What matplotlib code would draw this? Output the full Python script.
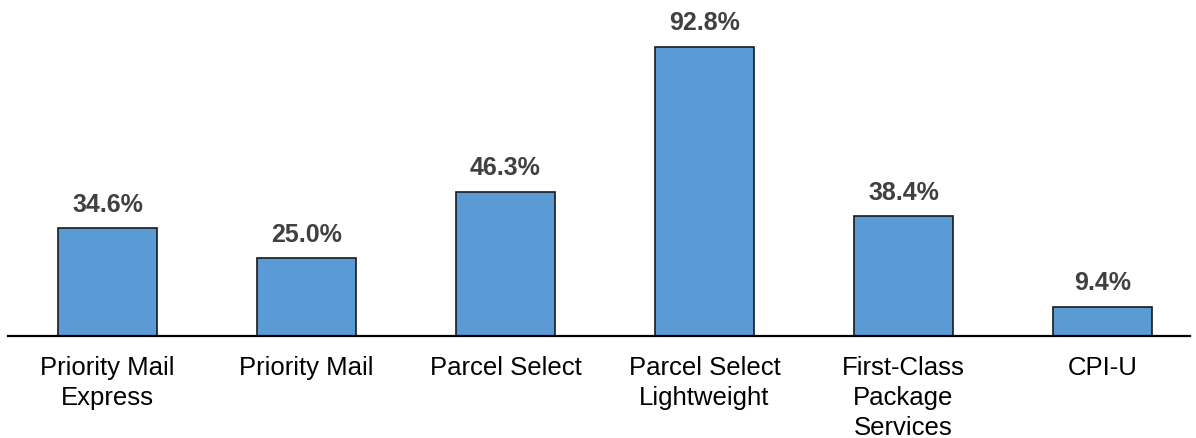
import matplotlib
matplotlib.use("Agg")
import matplotlib.pyplot as plt

# data
categories = ["Priority Mail\nExpress", "Priority Mail", "Parcel Select",
              "Parcel Select\nLightweight", "First-Class\nPackage\nServices", "CPI-U"]
values = [34.6, 25.0, 46.3, 92.8, 38.4, 9.4]

plt.rcParams['font.family'] = ['Liberation Sans', 'DejaVu Sans']

fig = plt.figure(figsize=(11.96, 4.39), dpi=100)
ax = fig.add_axes([8 / 1196, 102 / 439, 1182 / 1196, 337 / 439])

x = range(len(categories))
bars = ax.bar(x, values, width=0.5, color="#5B9BD5", edgecolor="#1a1a1a", linewidth=1.2)

for rect, v in zip(bars, values):
    ax.annotate(f"{v:.1f}%", (rect.get_x() + rect.get_width() / 2, rect.get_height()),
                xytext=(0, 9), textcoords="offset points", ha="center", va="bottom",
                fontsize=18, fontweight="bold", color="#404040")

ax.set_xlim(-0.5, len(categories) - 0.56)
ax.set_ylim(0, 108.2)
ax.set_xticks(list(x))
ax.set_xticklabels(categories, fontsize=18.5, color="black", linespacing=1.3)
ax.tick_params(axis="x", length=0, pad=14)
ax.set_yticks([])
for side in ["top", "right", "left"]:
    ax.spines[side].set_visible(False)
ax.spines["bottom"].set_linewidth(1.6)
ax.spines["bottom"].set_color("black")

fig.savefig("out.png", dpi=100)
